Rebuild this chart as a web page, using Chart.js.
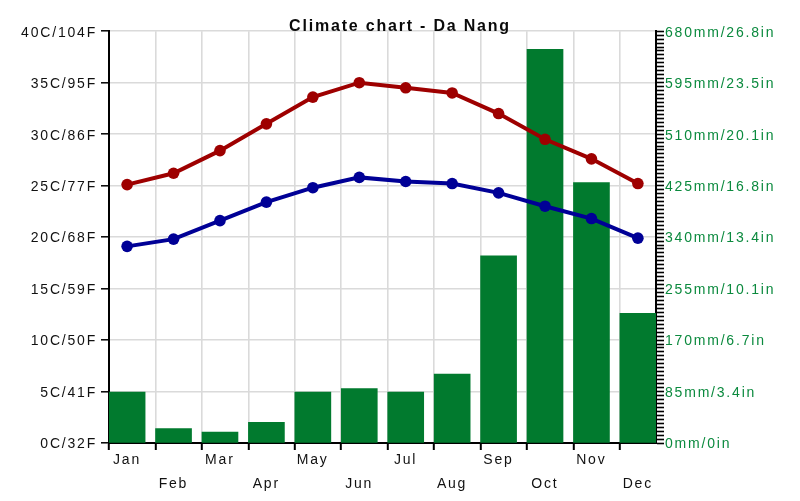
<!DOCTYPE html>
<html>
<head>
  <title>Climate chart - Da Nang</title>
  <script src="https://cdn.jsdelivr.net/npm/chart.js"></script>
  <style>
    body { margin: 0; background: #fff; }
    .chart-container { position: relative; width: 800px; height: 501px; }
  </style>
</head>
<body>
  <div class="chart-container">
    <canvas id="climateChart"></canvas>
  </div>

  <script>
    // Monthly values
    const months = ['Jan', 'Feb', 'Mar', 'Apr', 'May', 'Jun', 'Jul', 'Aug', 'Sep', 'Oct', 'Nov', 'Dec'];
    const maxTemp = [25.1, 26.2, 28.4, 31.0, 33.6, 35.0, 34.5, 34.0, 32.0, 29.5, 27.6, 25.2];
    const minTemp = [19.1, 19.8, 21.6, 23.4, 24.8, 25.8, 25.4, 25.2, 24.3, 23.0, 21.8, 19.9];
    const rainfall = [84, 24, 18, 34, 84, 90, 84, 114, 309, 650, 430, 214];

    // Axis tick labels
    const tempTicks = ['0C/32F', '5C/41F', '10C/50F', '15C/59F', '20C/68F', '25C/77F', '30C/86F', '35C/95F', '40C/104F'];
    const rainTicks = ['0mm/0in', '85mm/3.4in', '170mm/6.7in', '255mm/10.1in', '340mm/13.4in', '425mm/16.8in', '510mm/20.1in', '595mm/23.5in', '680mm/26.8in'];

    const FONT = 'Liberation Sans, Arial, sans-serif';
    const gridGrey = '#dadada';

    // the original text is set wide, widen canvas text a bit
    const wideText = {
      id: 'wideText',
      beforeUpdate(chart) { chart.ctx.letterSpacing = '1.8px'; },
      beforeDraw(chart) { chart.ctx.letterSpacing = '1.8px'; }
    };

    new Chart(document.getElementById('climateChart').getContext('2d'), {
      type: 'bar',
      data: {
        datasets: [
          {
            type: 'line',
            data: maxTemp.map((v, i) => ({ x: i, y: v })),
            yAxisID: 'y',
            borderColor: '#9e0000',
            backgroundColor: '#9e0000',
            borderWidth: 4,
            pointRadius: 5.8,
            pointBorderWidth: 0,
            order: 0
          },
          {
            type: 'line',
            data: minTemp.map((v, i) => ({ x: i, y: v })),
            yAxisID: 'y',
            borderColor: '#000096',
            backgroundColor: '#000096',
            borderWidth: 4,
            pointRadius: 5.8,
            pointBorderWidth: 0,
            order: 1
          },
          {
            type: 'bar',
            data: rainfall.map((v, i) => ({ x: i, y: v })),
            yAxisID: 'y1',
            backgroundColor: '#017a2e',
            barThickness: 36,
            order: 2
          }
        ]
      },
      options: {
        responsive: true,
        maintainAspectRatio: false,
        animation: false,
        layout: { padding: 0 },
        plugins: {
          legend: { display: false },
          tooltip: { enabled: false },
          title: {
            display: true,
            text: 'Climate chart - Da Nang',
            color: '#0a0a0a',
            font: { family: FONT, size: 16, weight: 'bold', lineHeight: 1.2 },
            padding: { top: 17, bottom: -5 }
          }
        },
        scales: {
          x: {
            type: 'linear',
            offset: false,
            min: -0.39,
            max: 11.39,
            afterBuildTicks: scale => { scale.ticks = months.map((m, i) => ({ value: i - 0.39 })); },
            afterFit: scale => { scale.height = 58; },
            grid: { offset: false, color: gridGrey, lineWidth: 1.6, tickColor: '#000', tickLength: 7, tickWidth: 2 },
            border: { display: true, color: '#000', width: 2 },
            ticks: {
              autoSkip: false,
              maxRotation: 0,
              minRotation: 0,
              labelOffset: 18,
              padding: -2,
              color: '#111',
              font: { family: FONT, size: 14, lineHeight: 24 / 14 },
              callback: (v, i) => i % 2 ? ['', months[i]] : months[i]
            }
          },
          y: {
            position: 'left',
            min: 0,
            max: 40,
            afterFit: scale => { scale.width = 109; },
            grid: { color: gridGrey, lineWidth: 1.6, tickColor: '#000', tickLength: 8, tickWidth: 1.5 },
            border: { display: true, color: '#000', width: 2 },
            ticks: {
              stepSize: 5,
              padding: 4,
              labelOffset: 1.5,
              color: '#111',
              font: { family: FONT, size: 14 },
              callback: (v, i) => tempTicks[i]
            }
          },
          y1: {
            position: 'right',
            min: 0,
            max: 680,
            afterBuildTicks: scale => {
              scale.ticks = Array.from({ length: 105 }, (_, k) => ({ value: k * 680 / 104 }));
            },
            afterFit: scale => { scale.width = 144; },
            grid: { drawOnChartArea: false, tickColor: '#000', tickLength: 8, tickWidth: 1.6 },
            border: { display: true, color: '#000', width: 2 },
            ticks: {
              autoSkip: false,
              padding: 1,
              labelOffset: 1.5,
              color: '#0b8a3e',
              font: { family: FONT, size: 14 },
              callback: (v, i) => i % 13 === 0 ? rainTicks[i / 13] : ''
            }
          }
        }
      },
      plugins: [wideText]
    });
  </script>
</body>
</html>
